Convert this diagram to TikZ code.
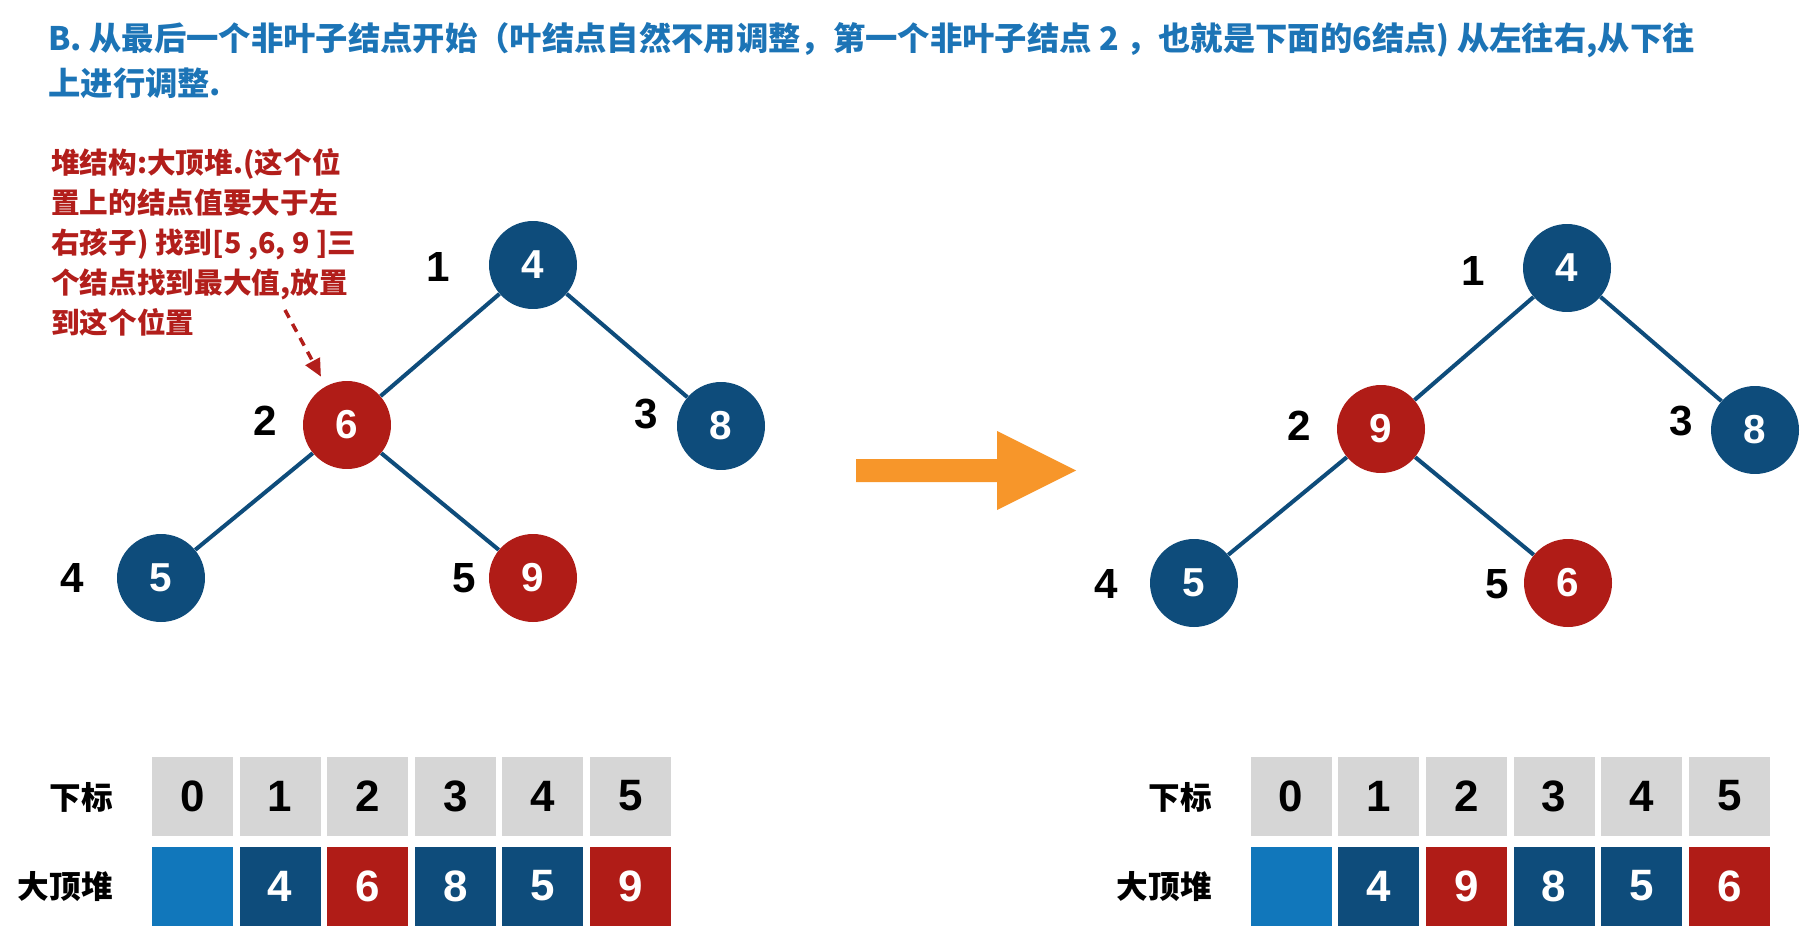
\documentclass[tikz,border=0pt]{standalone}
\usepackage{fontspec}
\setmainfont{Liberation Sans}
\newfontfamily\cjk{Noto Sans CJK SC}
\usetikzlibrary{arrows.meta}

\definecolor{heapblue}{HTML}{0E4C7B}
\definecolor{heapred}{HTML}{B01C17}
\definecolor{titleblue}{HTML}{1C74B6}
\definecolor{slotblue}{HTML}{1177BB}
\definecolor{idxgray}{HTML}{D6D6D6}
\definecolor{swaporange}{HTML}{F7962A}
\definecolor{notered}{HTML}{B21E1B}

\tikzset{
  bnode/.style={circle, fill=heapblue, minimum size=1.76cm, inner sep=0pt,
    text=white, font=\fontsize{23}{23}\selectfont\bfseries},
  rnode/.style={bnode, fill=heapred},
  posnum/.style={font=\fontsize{24}{24}\selectfont\bfseries},
  treeline/.style={heapblue, line width=2.3pt},
  cell/.style={minimum width=1.62cm, minimum height=1.58cm, inner sep=0pt,
    font=\fontsize{25}{25}\selectfont\bfseries},
  rowname/.style={anchor=east, font=\cjk\bfseries\fontsize{18}{18}\selectfont},
}

\begin{document}
\begin{tikzpicture}[x=0.02cm, y=-0.02cm]
\useasboundingbox (0,0) rectangle (1814,950);

% ---- title ----
\node[anchor=north west, inner sep=0pt, align=left, text=titleblue,
  font=\cjk\bfseries\fontsize{18.4}{25.5}\selectfont] (title) at (48,22)
  {B. 从最后一个非叶子结点开始（叶结点自然不用调整，第一个非叶子结点 2 ，也就是下面的6结点) 从左往右,从下往\\
   上进行调整.};

% ---- left tree (before) ----
\node[bnode] (L1) at (533,265) {4};
\node[rnode] (L2) at (347,425) {6};
\node[bnode] (L3) at (721,426) {8};
\node[bnode] (L4) at (161,578) {5};
\node[rnode] (L5) at (533,578) {9};
\draw[treeline] (L1) -- (L2);
\draw[treeline] (L1) -- (L3);
\draw[treeline] (L2) -- (L4);
\draw[treeline] (L2) -- (L5);
\node[posnum] (Lp1) at (438,267) {1};
\node[posnum] (Lp2) at (265,421) {2};
\node[posnum] (Lp3) at (646,414) {3};
\node[posnum] (Lp4) at (72,578) {4};
\node[posnum] (Lp5) at (464,578) {5};

% note on node 2
\node[anchor=north west, inner sep=0pt, align=left, text=notered,
  font=\cjk\bfseries\fontsize{16.3}{22.8}\selectfont] (note) at (51,148)
  {堆结构:大顶堆.(这个位\\置上的结点值要大于左\\右孩子) 找到[5 ,6, 9 ]三\\个结点找到最大值,放置\\到这个位置};
\coordinate (notetail) at (285,310);
\draw[notered, line width=2pt, dash pattern=on 5pt off 4pt,
  -{Triangle[length=10pt,width=9pt]}, shorten >=6pt] (notetail) -- (L2);

% ---- big arrow ----
\fill[swaporange] (856,459) -- (997,459) -- (997,431) -- (1076,470.5)
  -- (997,510) -- (997,482) -- (856,482) -- cycle;

% ---- right tree (after) ----
\node[bnode] (R1) at (1567,268) {4};
\node[rnode] (R2) at (1381,429) {9};
\node[bnode] (R3) at (1755,430) {8};
\node[bnode] (R4) at (1194,583) {5};
\node[rnode] (R5) at (1568,583) {6};
\draw[treeline] (R1) -- (R2);
\draw[treeline] (R1) -- (R3);
\draw[treeline] (R2) -- (R4);
\draw[treeline] (R2) -- (R5);
\node[posnum] (Rp1) at (1473,271) {1};
\node[posnum] (Rp2) at (1299,426) {2};
\node[posnum] (Rp3) at (1681,421) {3};
\node[posnum] (Rp4) at (1106,584) {4};
\node[posnum] (Rp5) at (1497,584) {5};

% ---- arrays ----
\node[rowname] (Lidx) at (119,797) {下标};
\node[rowname] (Lval) at (119,887) {大顶堆};
\foreach \i/\v/\c in {0//slotblue,1/4/heapblue,2/6/heapred,3/8/heapblue,4/5/heapblue,5/9/heapred} {
  \node[cell, fill=idxgray] (Li\i) at (192.5+87.6*\i,796) {\i};
  \node[cell, fill=\c, text=white] (Lv\i) at (192.5+87.6*\i,886) {\v};
}

\node[rowname] (Ridx) at (1218,797) {下标};
\node[rowname] (Rval) at (1218,887) {大顶堆};
\foreach \i/\v/\c in {0//slotblue,1/4/heapblue,2/9/heapred,3/8/heapblue,4/5/heapblue,5/6/heapred} {
  \node[cell, fill=idxgray] (Ri\i) at (1291+87.7*\i,796) {\i};
  \node[cell, fill=\c, text=white] (Rv\i) at (1291+87.7*\i,886) {\v};
}

\end{tikzpicture}
\end{document}
